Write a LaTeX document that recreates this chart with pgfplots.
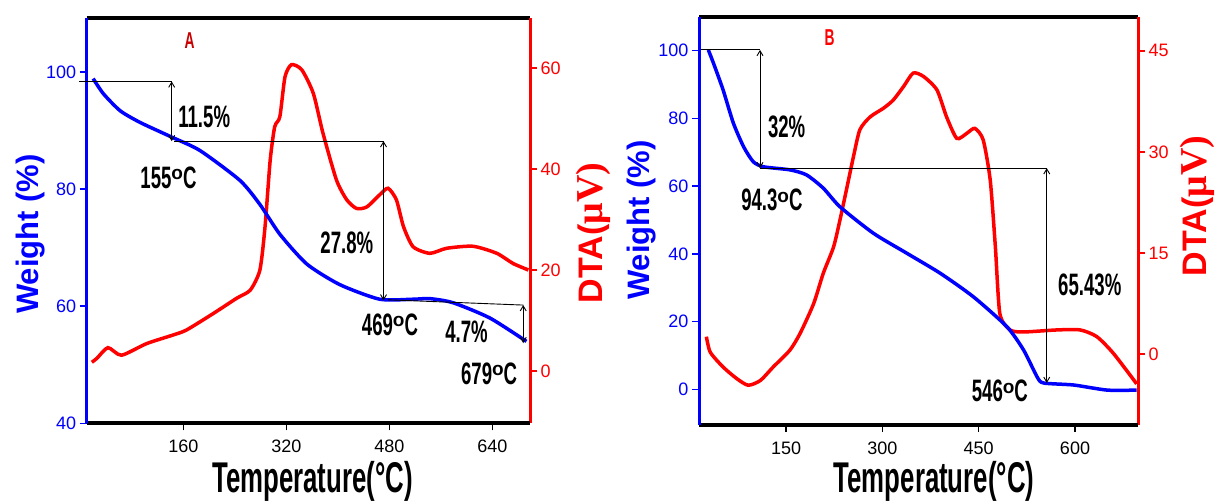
\documentclass[border=0pt]{standalone}
\usepackage{fontspec}
\setmainfont{Liberation Sans}
\newfontfamily\cond[FakeStretch=0.6]{Liberation Sans}
\newfontfamily\serifbf{Liberation Serif}
\usepackage{pgfplots}
\pgfplotsset{compat=1.18}
\usetikzlibrary{arrows.meta}

\definecolor{tgblue}{RGB}{0,0,255}
\definecolor{dtared}{RGB}{255,0,0}
\definecolor{panelA}{RGB}{200,0,0}

% open-circle degree mark used in the step labels
\newcommand\dg{\raisebox{8.5pt}{\normalfont\bfseries\fontsize{19}{19}\selectfont o}}

% TGA weight curves (temperature in degC, weight in %)
\pgfplotstableread{
T W
20 98.9
36 96.3
62 93.4
93 91.4
142 88.9
186 86.6
248 81.5
279 77.4
310 72.3
352 67.2
403 63.7
465 61.2
517 61.2
543 61.3
579 60.6
636 58.0
693 54.0
}\tgaA
\pgfplotstableread{
T D
18 1.7
26 2.5
43 4.6
64 3.1
103 5.4
144 7.1
165 8.1
207 11.4
243 14.4
264 16.0
279 20.0
287 28.6
295 41.8
302 48.4
310 50.4
318 58.3
328 60.7
344 59.7
362 55.0
377 47.1
398 37.8
414 33.9
429 32.2
445 32.5
465 34.9
478 36.2
491 33.9
502 28.6
517 24.6
543 23.3
569 24.3
610 24.7
647 23.3
672 21.3
696 20.0
}\dtaA
\pgfplotstableread{
T W
29 100.2
37 96.3
52 88.4
68 78.6
84 71.6
99 67.2
115 65.7
156 64.8
182 63.3
208 59.4
234 53.9
286 46.1
338 40.2
390 34.3
442 27.3
494 18.5
520 11.6
541 3.7
551 1.9
598 1.3
650 -0.2
696 -0.2
}\tgaB
\pgfplotstableread{
T D
26 2.6
32 0.3
52 -1.9
73 -3.6
91 -4.6
110 -3.9
130 -1.9
156 0.6
172 3.1
193 7.5
208 12.0
224 15.9
234 19.9
245 24.8
255 29.3
265 33.3
281 35.2
302 36.5
317 37.7
333 39.7
348 41.7
364 41.2
385 39.2
400 35.2
416 32.0
432 32.8
444 33.5
457 31.8
468 25.8
476 15.9
483 6.0
499 3.6
520 3.3
572 3.6
608 3.6
634 2.6
660 0.1
696 -4.4
}\dtaB

\pgfplotsset{
  tgpanel/.style={
    scale only axis, anchor=south west, clip=false,
    tick align=outside, major tick length=7pt,
    /pgf/number format/assume math mode=true,
    tick label style={font=\fontsize{18}{18}\selectfont},
    xticklabel style={yshift=-6pt},
  },
}
\tikzset{
  ann/.style={font=\cond\bfseries\fontsize{31}{31}\selectfont, text=black, inner sep=0pt},
  dim/.style={black, line width=0.9pt},
  >={Straight Barb[length=5pt,width=6pt]},
}

\begin{document}
\begin{tikzpicture}[x=1pt,y=1pt]
\useasboundingbox (0,0) rectangle (1215,501);

% ---------------- Panel A ----------------
\begin{axis}[tgpanel, at={(86.7pt,77.7pt)}, width=443.3pt, height=405pt,
  xmin=10, xmax=698.5, ymin=-10.4, ymax=69.9,
  axis x line*=top, axis y line*=right,
  x axis line style={black, line width=4pt}, xtick=\empty,
  y axis line style={dtared, line width=3pt},
  ytick={0,20,40,60}, ytick style={dtared, line width=1.5pt},
  yticklabel style={text=dtared}]
\addplot[dtared, line width=3.5pt, smooth, tension=0.4] table[x=T,y=D]{\dtaA};
\end{axis}
\begin{axis}[tgpanel, at={(86.7pt,77.7pt)}, width=443.3pt, height=405pt,
  xmin=10, xmax=698.5, ymin=40, ymax=109.2,
  axis x line*=bottom, axis y line*=left,
  x axis line style={black, line width=4pt},
  y axis line style={tgblue, line width=3pt},
  xtick={160,320,480,640}, ytick={40,60,80,100},
  xtick style={black, line width=1.5pt}, ytick style={tgblue, line width=1.5pt},
  yticklabel style={text=tgblue}]
\addplot[tgblue, line width=3.5pt, smooth, tension=0.4] table[x=T,y=W]{\tgaA};
% step annotations
\draw[dim] (axis cs:-2,98.4) -- (axis cs:142,98.4);
\draw[dim,<->] (axis cs:142,98.4) -- (axis cs:142,88.2);
\draw[dim] (axis cs:146,88.2) -- (axis cs:471,88.2);
\draw[dim,<->] (axis cs:471,88.2) -- (axis cs:471,61.0);
\draw[dim] (axis cs:478,61.1) -- (axis cs:688,60.2);
\draw[dim,<->] (axis cs:688,60.2) -- (axis cs:688,53.7);
\node[ann, anchor=west] at (axis cs:152,92.3) {11.5\%};
\node[ann] at (axis cs:137,82) {155\dg C};
\node[ann] at (axis cs:414,70.9) {27.8\%};
\node[ann] at (axis cs:481,56.9) {469\dg C};
\node[ann] at (axis cs:600,55.7) {4.7\%};
\node[ann] at (axis cs:635,48.5) {679\dg C};
\node[ann, text=panelA, font=\cond\bfseries\fontsize{23}{23}\selectfont] at (axis cs:170,105.4) {A};
\end{axis}

% ---------------- Panel B ----------------
\begin{axis}[tgpanel, at={(699pt,76pt)}, width=439pt, height=408.3pt,
  xmin=14.5, xmax=698.1, ymin=-10.5, ymax=50.06,
  axis x line*=top, axis y line*=right,
  x axis line style={black, line width=4pt}, xtick=\empty,
  y axis line style={dtared, line width=3pt},
  ytick={0,15,30,45}, ytick style={dtared, line width=1.5pt},
  yticklabel style={text=dtared}]
\addplot[dtared, line width=3.5pt, smooth, tension=0.4] table[x=T,y=D]{\dtaB};
\end{axis}
\begin{axis}[tgpanel, at={(699pt,76pt)}, width=439pt, height=408.3pt,
  xmin=14.5, xmax=698.1, ymin=-10.5, ymax=110,
  axis x line*=bottom, axis y line*=left,
  x axis line style={black, line width=4pt},
  y axis line style={tgblue, line width=3pt},
  xtick={150,300,450,600}, ytick={0,20,40,60,80,100},
  xtick style={black, line width=1.5pt}, ytick style={tgblue, line width=1.5pt},
  yticklabel style={text=tgblue}]
\addplot[tgblue, line width=3.5pt, smooth, tension=0.4] table[x=T,y=W]{\tgaB};
% step annotations
\draw[dim] (axis cs:18,100.2) -- (axis cs:109.5,100.2);
\draw[dim,<->] (axis cs:109.5,100.2) -- (axis cs:109.5,65.3);
\draw[dim] (axis cs:109.5,65.3) -- (axis cs:556,65.3);
\draw[dim,<->] (axis cs:556,65.3) -- (axis cs:556,1.9);
\node[ann] at (axis cs:151,77.6) {32\%};
\node[ann] at (axis cs:128,55.9) {94.3\dg C};
\node[ann] at (axis cs:623,30.8) {65.43\%};
\node[ann] at (axis cs:483,-0.5) {546\dg C};
\node[ann, text=dtared, font=\cond\bfseries\fontsize{23}{23}\selectfont] at (axis cs:218,103.7) {B};
\end{axis}

% axis titles
\node[font=\bfseries\fontsize{31}{31}\selectfont, text=tgblue, rotate=90] at (31,267) {Weight (\%)};
\node[font=\bfseries\fontsize{31}{31}\selectfont, text=tgblue, rotate=90] at (642,281) {Weight (\%)};
\node[text=dtared, rotate=90] at (593,268) {\bfseries\fontsize{34}{34}\selectfont DTA(\serifbf\fontsize{38}{38}\selectfont μV)};
\node[text=dtared, rotate=90] at (1197,295) {\bfseries\fontsize{34}{34}\selectfont DTA(\serifbf\fontsize{38}{38}\selectfont μV)};
\node[font=\cond\bfseries\fontsize{43}{43}\selectfont, anchor=base] at (312.5,9) {Temperature(°C)};
\node[font=\cond\bfseries\fontsize{43}{43}\selectfont, anchor=base] at (934,9) {Temperature(°C)};
\end{tikzpicture}
\end{document}
